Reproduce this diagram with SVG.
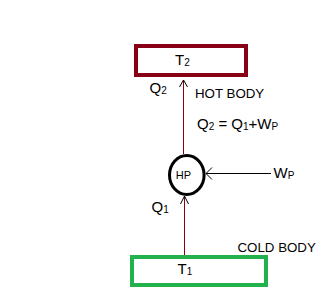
<svg xmlns="http://www.w3.org/2000/svg" width="323" height="294" viewBox="0 0 323 294">
<style>
text{font-family:"Liberation Sans",Arial,sans-serif;fill:#000}
.lbl{font-size:15px}
.sm{font-size:13.3px}
.sub{font-size:10px}
.head{fill:none;stroke:#000;stroke-width:1}
.flow{stroke:#880015;stroke-width:1;fill:none}
</style>
<rect width="323" height="294" fill="#fff"/>
<g id="connectors">
<line class="flow" x1="183.5" y1="80" x2="183.5" y2="154"/>
<polyline class="head" points="179.5,87 183.5,80 187.5,87"/>
<line class="flow" x1="184.5" y1="196" x2="184.5" y2="255"/>
<polyline class="head" points="180.5,204 184.5,196 188.5,204"/>
<line x1="206" y1="173.5" x2="271" y2="173.5" stroke="#000" stroke-width="1"/>
<polyline class="head" points="212,167.5 206,173.5 212,179.5"/>
</g>
<g id="hot">
<rect x="136" y="46" width="110" height="29" fill="none" stroke="#880015" stroke-width="4"/>
<text class="lbl" x="175" y="65">T<tspan class="sub" dy="1">2</tspan></text>
</g>
<g id="hp">
<ellipse cx="186.8" cy="175" rx="17.3" ry="19.5" fill="#fff" stroke="#000" stroke-width="3"/>
<text x="183.5" y="178.5" font-size="11" text-anchor="middle">HP</text>
</g>
<g id="cold">
<rect x="132" y="257" width="134" height="28" fill="none" stroke="#22B14C" stroke-width="4"/>
<text class="lbl" x="177.5" y="274">T<tspan class="sub" dy="1">1</tspan></text>
</g>
<g id="labels">
<text class="lbl" x="149.5" y="93">Q<tspan class="sub" dy="1">2</tspan></text>
<text class="sm" x="195" y="98">HOT BODY</text>
<text class="lbl" x="197" y="129">Q<tspan class="sub" dy="1">2</tspan><tspan dy="-1"> = Q</tspan><tspan class="sub" dy="1">1</tspan><tspan dy="-1">+W</tspan><tspan class="sub" dy="1">P</tspan></text>
<text class="lbl" x="273.5" y="178">W<tspan class="sub" dy="1">P</tspan></text>
<text class="lbl" x="151.5" y="211.5">Q<tspan class="sub" dy="1">1</tspan></text>
<text class="sm" x="237.5" y="251.5">COLD BODY</text>
</g>
</svg>
